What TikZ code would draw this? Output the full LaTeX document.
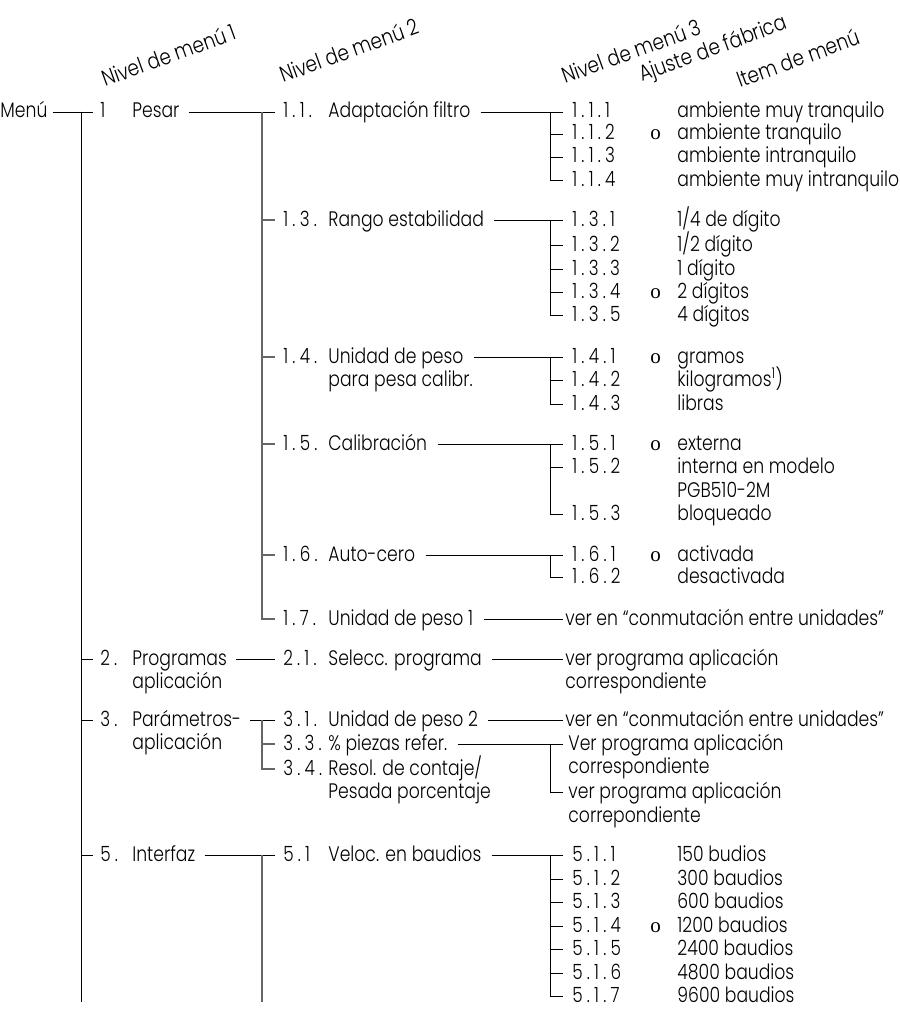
\documentclass[tikz,border=0pt]{standalone}
\usepackage{fontspec}
\setmainfont{Poppins Light}[FakeStretch=0.82]
\newfontfamily\numfont{Poppins Light}[FakeStretch=0.8, Numbers=Monospaced, LetterSpace=20]
\newfontfamily\hdrfont{Poppins Light}[FakeStretch=0.84]
\newfontfamily\markfont{Liberation Serif}
\usetikzlibrary{positioning}

\begin{document}
\begin{tikzpicture}[x=1pt, y=-1pt, line width=0.8pt,
    font=\fontsize{21}{23}\selectfont,
    txt/.style={inner sep=0pt, anchor=west, text height=12pt, text depth=0pt},
    num/.style={txt, font=\numfont\fontsize{21}{23}\selectfont},
    mk/.style={txt, font=\markfont\fontsize{21}{23}\selectfont},
    hdr/.style={inner sep=0pt, anchor=base west, rotate=20, font=\hdrfont\fontsize{22}{23}\selectfont},
    trunk/.style={draw=black!60, line width=1.3pt}]
  \useasboundingbox (0,0) rectangle (899,1011);

  % column positions
  \def\xa{100}\def\xal{132}
  \def\xb{283}\def\xbl{328}
  \def\xc{572}\def\xm{650}\def\xi{677}\def\xv{565}

  % headings
  \node[hdr] (h1) at (105,87) {Nivel de menú 1};
  \node[hdr] (h2) at (283,83) {Nivel de menú 2};
  \node[hdr] (h3) at (565,84) {Nivel de menú 3};
  \node[hdr] (h4) at (642,82) {Ajuste de fábrica};
  \node[hdr] (h5) at (740,88) {Item de menú};

  % level 1
  \node[txt] (menu) at (0,112) {Menú};
  \node[num] (a1n) at (\xa,112) {1};
  \node[txt] (a1) at (\xal,112) {Pesar};
  \node[num] (a2n) at (\xa,659) {2.};
  \node[txt] (a2) at (\xal,659) {Programas};
  \node[txt] (a2b) at (\xal,682) {aplicación};
  \node[num] (a3n) at (\xa,720) {3.};
  \node[txt] (a3) at (\xal,720) {Parámetros-};
  \node[txt] (a3b) at (\xal,743) {aplicación};
  \node[num] (a5n) at (\xa,855) {5.};
  \node[txt] (a5) at (\xal,855) {Interfaz};

  \coordinate (a-end) at (81,1002);
  \coordinate (b-end) at (262,1002);

  \draw ([xshift=5pt]menu.east) -- ([xshift=-7pt]a1n.west);
  \draw ([xshift=-19pt]a1n.west) -- (a-end);
  \foreach \n in {a2n,a3n,a5n}
    \draw ([xshift=-19pt]a1n.west) |- ([xshift=-7pt]\n.west);

  % level 2
  \foreach \n/\r/\k/\t in {11/112/1.1./Adaptación filtro, 13/220/1.3./Rango estabilidad,
      14/357/1.4./Unidad de peso, 15/444/1.5./Calibración, 16/555/1.6./Auto-cero,
      17/619/1.7./Unidad de peso 1, 21/659/2.1./Selecc. programa,
      31/720/3.1./Unidad de peso 2, 33/744/3.3./\% piezas refer.,
      34/769/3.4./{Resol. de contaje/}, 51/855/5.1/Veloc. en baudios}{
    \node[num] (b\n) at (\xb,\r) {\k};
    \node[txt] (l\n) at (\xbl,\r) {\t};
  }
  \node[txt] (l14b) at (\xbl,380) {para pesa calibr.};
  \node[txt] (l34b) at (\xbl,792) {Pesada porcentaje};

  \draw ([xshift=9pt]a1.east) -- ([xshift=-8pt]b11.west);
  \draw ([xshift=9pt]a2.east) -- ([xshift=-8pt]b21.west);
  \draw ([xshift=9pt]a3.east) -- ([xshift=-8pt]b31.west);
  \draw ([xshift=9pt]a5.east) -- ([xshift=-8pt]b51.west);
  \foreach \n in {13,14,15,16,17}
    \draw[trunk] ([xshift=-21pt]b11.west) |- ([xshift=-8pt]b\n.west);
  \foreach \n in {33,34}
    \draw[trunk] ([xshift=-21pt]b31.west) |- ([xshift=-8pt]b\n.west);
  \draw[trunk] ([xshift=-21pt]b51.west) -- (b-end);

  % level 3
  \foreach \i/\r/\t in {1/112/ambiente muy tranquilo, 2/134/ambiente tranquilo,
      3/157/ambiente intranquilo, 4/180/ambiente muy intranquilo}{
    \node[num] (c11\i) at (\xc,\r) {1.1.\i};
    \node[txt] (t11\i) at (\xi,\r) {\t};
    \draw ([xshift=-22pt]c111.west) |- ([xshift=-9pt]c11\i.west);
  }
  \foreach \i/\r/\t in {1/220/{1/4 de dígito}, 2/245/{1/2 dígito}, 3/269/1 dígito,
      4/292/2 dígitos, 5/315/4 dígitos}{
    \node[num] (c13\i) at (\xc,\r) {1.3.\i};
    \node[txt] (t13\i) at (\xi,\r) {\t};
    \draw ([xshift=-22pt]c131.west) |- ([xshift=-9pt]c13\i.west);
  }
  \foreach \i/\r/\t in {1/357/gramos, 2/380/kilogramos\textsuperscript{1}), 3/404/libras}{
    \node[num] (c14\i) at (\xc,\r) {1.4.\i};
    \node[txt] (t14\i) at (\xi,\r) {\t};
    \draw ([xshift=-22pt]c141.west) |- ([xshift=-9pt]c14\i.west);
  }
  \foreach \i/\r/\t in {1/444/externa, 2/467/interna en modelo, 3/514/bloqueado}{
    \node[num] (c15\i) at (\xc,\r) {1.5.\i};
    \node[txt] (t15\i) at (\xi,\r) {\t};
    \draw ([xshift=-22pt]c151.west) |- ([xshift=-9pt]c15\i.west);
  }
  \node[txt] (t152b) at (\xi,491) {PGB510-2M};
  \foreach \i/\r/\t in {1/555/activada, 2/577/desactivada}{
    \node[num] (c16\i) at (\xc,\r) {1.6.\i};
    \node[txt] (t16\i) at (\xi,\r) {\t};
    \draw ([xshift=-22pt]c161.west) |- ([xshift=-9pt]c16\i.west);
  }
  \foreach \i/\r/\t in {1/855/150 budios, 2/879/300 baudios, 3/902/600 baudios,
      4/926/1200 baudios, 5/949/2400 baudios, 6/973/4800 baudios, 7/996/9600 baudios}{
    \node[num] (c51\i) at (\xc,\r) {5.1.\i};
    \node[txt] (t51\i) at (\xi,\r) {\t};
    \draw ([xshift=-22pt]c511.west) |- ([xshift=-9pt]c51\i.west);
  }

  % factory settings
  \node[mk] (o112) at (\xm,134) {o};
  \node[mk] (o134) at (\xm,292) {o};
  \node[mk] (o141) at (\xm,357) {o};
  \node[mk] (o151) at (\xm,444) {o};
  \node[mk] (o161) at (\xm,555) {o};
  \node[mk] (o514) at (\xm,926) {o};

  % references to other sections
  \node[txt] (v17) at (\xv,619) {ver en “conmutación entre unidades”};
  \node[txt] (v21) at (\xv,659) {ver programa aplicación};
  \node[txt] (v21b) at (\xv,682) {correspondiente};
  \node[txt] (v31) at (\xv,720) {ver en “conmutación entre unidades”};
  \node[txt] (v33) at (568,744) {Ver programa aplicación};
  \node[txt] (v33b) at (568,767) {correspondiente};
  \node[txt] (v34) at (568,792) {ver programa aplicación};
  \node[txt] (v34b) at (568,816) {correpondiente};

  \draw ([xshift=10pt]l11.east) -- ([xshift=-9pt]c111.west);
  \draw ([xshift=10pt]l13.east) -- ([xshift=-9pt]c131.west);
  \draw ([xshift=10pt]l14.east) -- ([xshift=-9pt]c141.west);
  \draw ([xshift=10pt]l15.east) -- ([xshift=-9pt]c151.west);
  \draw ([xshift=10pt]l16.east) -- ([xshift=-9pt]c161.west);
  \draw ([xshift=10pt]l51.east) -- ([xshift=-9pt]c511.west);
  \draw ([xshift=10pt]l17.east) -- ([xshift=-2pt]v17.west);
  \draw ([xshift=10pt]l21.east) -- ([xshift=-2pt]v21.west);
  \draw ([xshift=10pt]l31.east) -- ([xshift=-2pt]v31.west);
  \draw ([xshift=10pt]l33.east) -- ([xshift=-5pt]v33.west);
  \draw ([xshift=-18pt]v33.west) |- ([xshift=-5pt]v34.west);
\end{tikzpicture}
\end{document}
